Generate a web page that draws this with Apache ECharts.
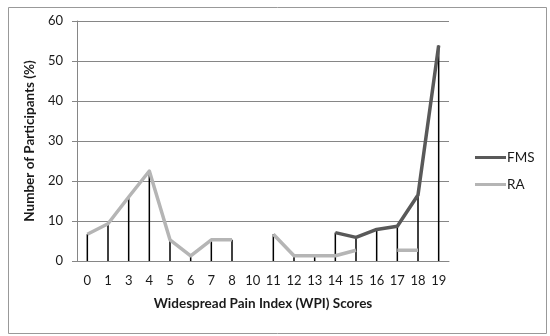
<!DOCTYPE html>
<html>
<head>
<meta charset="utf-8">
<script src="https://cdn.jsdelivr.net/npm/echarts@6/dist/echarts.min.js"></script>
<style>
html,body{margin:0;padding:0;background:#fff;}
#c{width:550px;height:336px;}
</style>
</head>
<body>
<div id="c"></div>
<script>
var categories = ['0','1','3','4','5','6','7','8','10','11','12','13','14','15','16','17','18','19'];
var fmsValues = [null,null,null,null,null,null,null,null,null,null,null,null,7.1,5.9,7.9,8.7,16.5,53.9];
var raValues = [6.7,9.3,16,22.5,5.3,1.3,5.3,5.3,null,6.7,1.3,1.3,1.3,2.7,null,2.7,2.7,null];
var yTicks = {min:0, max:60, interval:10};

var dropValues = categories.map(function(c,i){
  var a = fmsValues[i], b = raValues[i];
  if (a == null && b == null) return null;
  return Math.max(a == null ? -Infinity : a, b == null ? -Infinity : b);
});

var font = 'Lato';
var chart = echarts.init(document.getElementById('c'), null, {renderer:'canvas'});
chart.setOption({
  animation:false,
  backgroundColor:'#fff',
  textStyle:{fontFamily:font},
  graphic:[{
    type:'rect', left:6, top:5, z:-10,
    shape:{width:538, height:326},
    style:{fill:'none', stroke:'#999', lineWidth:1}
  }],
  grid:{left:77, right:101, top:21, bottom:75},
  legend:{
    orient:'vertical', left:470, top:145,
    itemWidth:31, itemHeight:3, itemGap:12,
    icon:'rect',
    data:['FMS','RA'],
    textStyle:{fontFamily:font, fontSize:13.5, color:'#1a1a1a', padding:[0,0,0,-4], lineHeight:15}
  },
  xAxis:{
    type:'category', data:categories, boundaryGap:true,
    axisLine:{lineStyle:{color:'#868686', width:1}},
    axisTick:{show:false},
    axisLabel:{color:'#1a1a1a', fontSize:13, margin:13, interval:0, fontFamily:font},
    name:'Widespread Pain Index (WPI) Scores',
    nameLocation:'middle', nameGap:36,
    nameTextStyle:{fontWeight:'bold', fontSize:13.5, color:'#1a1a1a', fontFamily:font}
  },
  yAxis:{
    type:'value', min:yTicks.min, max:yTicks.max, interval:yTicks.interval,
    axisLine:{show:true, lineStyle:{color:'#868686', width:1}},
    axisTick:{show:true, length:5, lineStyle:{color:'#868686'}},
    splitLine:{lineStyle:{color:'#868686', width:1}},
    axisLabel:{color:'#1a1a1a', fontSize:13, margin:14, fontFamily:font},
    name:'Number of Participants (%)',
    nameLocation:'middle', nameGap:36,
    nameTextStyle:{fontWeight:'bold', fontSize:13.5, color:'#1a1a1a', fontFamily:font}
  },
  series:[
    {
      name:'drop', type:'bar', data:dropValues, barWidth:1.5,
      itemStyle:{color:'#000'}, z:1, silent:true, legendHoverLink:false
    },
    {
      name:'FMS', type:'line', data:fmsValues, showSymbol:false, symbol:'none',
      connectNulls:false, z:3,
      itemStyle:{color:'#595959'},
      lineStyle:{color:'#595959', width:3.5, join:'round'}
    },
    {
      name:'RA', type:'line', data:raValues, showSymbol:false, symbol:'none',
      connectNulls:false, z:2,
      itemStyle:{color:'#b5b5b5'},
      lineStyle:{color:'#b5b5b5', width:3.5, join:'round'}
    }
  ]
});
</script>
</body>
</html>
